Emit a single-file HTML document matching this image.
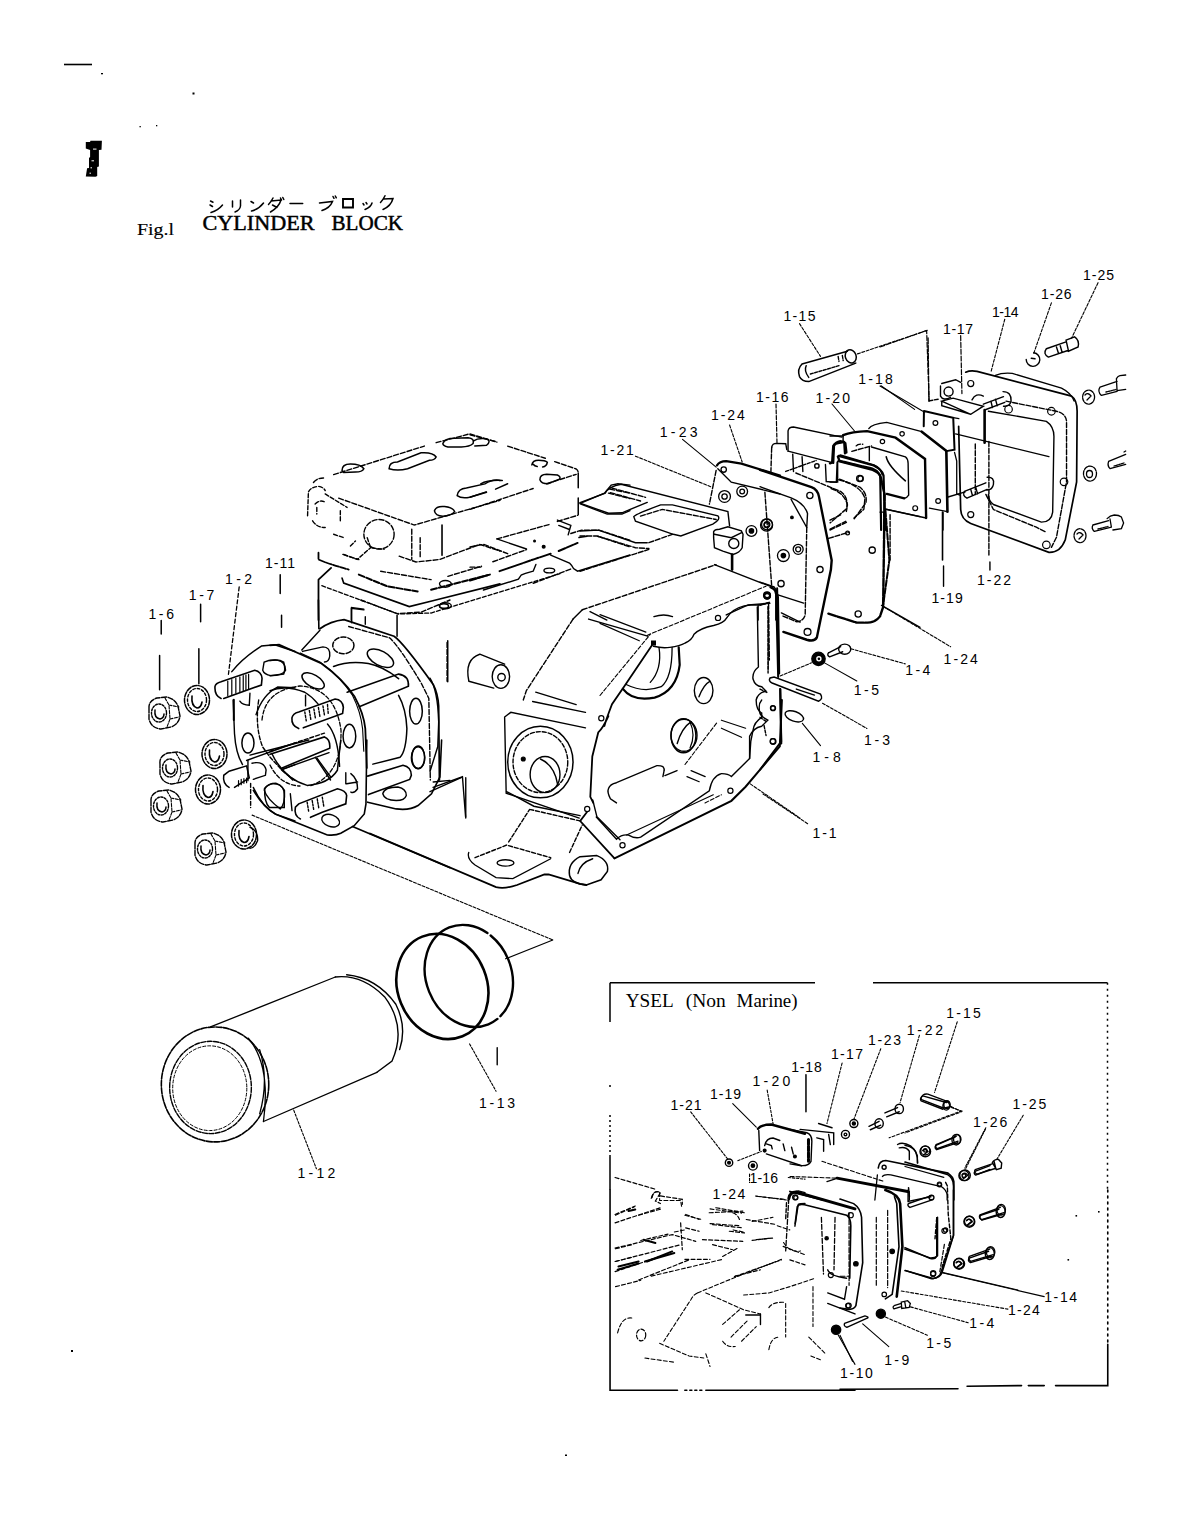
<!DOCTYPE html>
<html><head><meta charset="utf-8">
<style>
html,body{margin:0;padding:0;background:#fff;width:1190px;height:1540px;overflow:hidden}
svg{position:absolute;left:0;top:0}
.t{font-family:"Liberation Serif",serif;fill:#000}
path,line,circle,ellipse,rect,polyline{vector-effect:non-scaling-stroke}
.l{font-family:"Liberation Sans",sans-serif;font-size:13px;fill:#000;letter-spacing:0.5px}
</style></head><body>
<svg width="1190" height="1540" viewBox="0 0 1190 1540">
<g id="title">
<line x1="64" y1="64.5" x2="92" y2="64.5" stroke="#000" stroke-width="1.6"/>
<rect x="101" y="73" width="2" height="1.3" fill="#000"/>
<rect x="192.5" y="92.5" width="2" height="2" fill="#000"/>
<rect x="139.5" y="126" width="1.3" height="1.3" fill="#000"/>
<rect x="156" y="125" width="1.3" height="1.3" fill="#000"/>
<path d="M85.8,142 L90,142 L90.5,140.7 L101.9,140.7 L101.5,149.8 L98.9,150 L98.9,166.6 L97.2,167 L97.2,176 L95.5,176.8 L85.8,176.6 L87.1,168.3 L89,168 L89,158 L90.1,157 L90.1,150 L85.8,148.5 Z" fill="#000"/>
<path d="M93,149.1h3.5M91.5,160.8h2.5M90.5,167.8h1.5M89.5,173.2h1.5" stroke="#fff" stroke-width="1"/>
<text class="t" x="137" y="234.5" font-size="17.5" stroke="#000" stroke-width="0.15" textLength="37" lengthAdjust="spacingAndGlyphs">Fig.l</text>
<text class="t" x="202.5" y="229.7" font-size="20" stroke="#000" stroke-width="0.45" textLength="112" lengthAdjust="spacingAndGlyphs">CYLINDER</text>
<text class="t" x="331.5" y="229.7" font-size="20" stroke="#000" stroke-width="0.45" textLength="71.5" lengthAdjust="spacingAndGlyphs">BLOCK</text>
<g fill="none" stroke="#000" stroke-width="1.5" stroke-linecap="round">
<path d="M210.5,201 L213,202.2 M210,205 L212.5,206.5 M211,212.5 Q218,210.5 222.5,205"/>
<path d="M232.5,201 L232.5,207 M240.5,200 L240.5,206 Q240,210 235,212"/>
<path d="M251,201.5 L253.5,203 M251.5,211 Q259,209 263.5,203"/>
<path d="M273,198 Q271,202 268.5,204.5 M271,201 L281,200 Q279,207 270.5,212 M272.5,205 L277,207.5 M280.5,198 l1,2 M282.8,197.5 l1,2"/>
<path d="M290,203.6 H302.7"/>
<path d="M319.5,203 L332.5,201.5 Q330,208 322,210.5 M333,196.5 l1,1.8 M335.3,196 l1,1.8"/>
<path d="M343,199 H353 V207.5 H343 Z M343,207.5 H353" stroke-width="1.9"/>
<path d="M363,203.5 l1,1.5 M366,202.5 l1,1.5 M372,203 Q371,207 365,209.5"/>
<path d="M385,195.8 Q383,200 380.5,202.5 M383.5,199 L393,198.5 Q391,206 383,209.5"/>
</g>
</g>
<g id="inset" fill="none" stroke="#000" stroke-width="1.5">
<path d="M610 982.8H815M873 982.8H1107.5"/>
<path d="M610 982.8V1022M610 1155V1190"/>
<path d="M610 1085v2M610 1115v37" stroke-dasharray="2 3"/>
<path d="M1107.5 982.8V1190" stroke-dasharray="2 4"/>
</g>
<g class="t" font-size="18">
<text x="625.7" y="1007.2" textLength="48" lengthAdjust="spacingAndGlyphs">YSEL</text>
<text x="685.8" y="1007.2" textLength="40" lengthAdjust="spacingAndGlyphs">(Non</text>
<text x="736.6" y="1007.2" textLength="61" lengthAdjust="spacingAndGlyphs">Marine)</text>
</g>
<g id="labels"><g font-family="Liberation Sans, sans-serif" font-size="14" fill="#000">
<text x="1083" y="280" textLength="31.0" lengthAdjust="spacing">1-25</text>
<text x="1041" y="299" textLength="30.6" lengthAdjust="spacing">1-26</text>
<text x="992" y="316.7" textLength="26.6" lengthAdjust="spacing">1-14</text>
<text x="943" y="334" textLength="30.0" lengthAdjust="spacing">1-17</text>
<text x="858.3" y="384" textLength="34.5" lengthAdjust="spacing">1-18</text>
<text x="783.5" y="321" textLength="32.0" lengthAdjust="spacing">1-15</text>
<text x="756" y="401.5" textLength="32.6" lengthAdjust="spacing">1-16</text>
<text x="815.5" y="402.5" textLength="34.5" lengthAdjust="spacing">1-20</text>
<text x="711" y="420" textLength="33.7" lengthAdjust="spacing">1-24</text>
<text x="659.8" y="436.8" textLength="37.8" lengthAdjust="spacing">1-23</text>
<text x="600.4" y="454.5" textLength="33.4" lengthAdjust="spacing">1-21</text>
<text x="931.4" y="603.4" textLength="31.3" lengthAdjust="spacing">1-19</text>
<text x="977" y="585" textLength="34.0" lengthAdjust="spacing">1-22</text>
<text x="943.5" y="663.9" textLength="34.3" lengthAdjust="spacing">1-24</text>
<text x="905.2" y="675" textLength="25.2" lengthAdjust="spacing">1-4</text>
<text x="853.8" y="695" textLength="25.2" lengthAdjust="spacing">1-5</text>
<text x="863.9" y="744.5" textLength="26.1" lengthAdjust="spacing">1-3</text>
<text x="812.4" y="761.7" textLength="28.3" lengthAdjust="spacing">1-8</text>
<text x="812.4" y="838.3" textLength="24.2" lengthAdjust="spacing">1-1</text>
<text x="148.4" y="618.5" textLength="25.6" lengthAdjust="spacing">1-6</text>
<text x="188.8" y="600.3" textLength="25.5" lengthAdjust="spacing">1-7</text>
<text x="225" y="583.5" textLength="27.0" lengthAdjust="spacing">1-2</text>
<text x="265" y="568" textLength="30.0" lengthAdjust="spacing">1-11</text>
<text x="297.5" y="1178" textLength="37.8" lengthAdjust="spacing">1-12</text>
<text x="479" y="1108" textLength="36.0" lengthAdjust="spacing">1-13</text>

<text x="946.3" y="1017.6" textLength="34.5" lengthAdjust="spacing">1-15</text>
<text x="906.8" y="1034.5" textLength="36.2" lengthAdjust="spacing">1-22</text>
<text x="868" y="1045.4" textLength="33.0" lengthAdjust="spacing">1-23</text>
<text x="831" y="1058.8" textLength="32.0" lengthAdjust="spacing">1-17</text>
<text x="791.2" y="1071.9" textLength="30.5" lengthAdjust="spacing">1-18</text>
<text x="752.4" y="1085.8" textLength="37.9" lengthAdjust="spacing">1-20</text>
<text x="710" y="1099.3" textLength="31.0" lengthAdjust="spacing">1-19</text>
<text x="670.5" y="1110.3" textLength="31.1" lengthAdjust="spacing">1-21</text>
<text x="1012.6" y="1109" textLength="33.6" lengthAdjust="spacing">1-25</text>
<text x="973" y="1126.8" textLength="34.4" lengthAdjust="spacing">1-26</text>
<text x="749.5" y="1182.5" textLength="28.5" lengthAdjust="spacing">1-16</text>
<text x="712.6" y="1198.5" textLength="32.7" lengthAdjust="spacing">1-24</text>
<text x="1044.2" y="1302.3" textLength="32.9" lengthAdjust="spacing">1-14</text>
<text x="1008" y="1314.8" textLength="31.7" lengthAdjust="spacing">1-24</text>
<text x="969.3" y="1328.4" textLength="25.0" lengthAdjust="spacing">1-4</text>
<text x="926.2" y="1347.7" textLength="25.0" lengthAdjust="spacing">1-5</text>
<text x="884.2" y="1364.7" textLength="25.0" lengthAdjust="spacing">1-9</text>
<text x="840" y="1378.3" textLength="32.9" lengthAdjust="spacing">1-10</text></g></g>
<g transform="translate(250 740) scale(0.168067)" fill="none" stroke="#000" stroke-width="1.4" stroke-linecap="round">
<path stroke-width="1.6" d="M20,300 Q80,400 150,440 L460,565 Q510,570 540,555 L620,510 L680,440 L690,380 L695,0"/>
<path stroke-width="1.6" d="M700,370 L870,410 Q950,420 1000,390 L1080,320 L1130,220 L1140,0"/>
<path stroke-width="1.6" d="M300,470 Q260,450 270,400 L290,380 L520,290 Q570,300 575,330 L570,380 L430,430 L360,460"/>
<path stroke-dasharray="2.00 1.50" d="M340,370 L350,430 M370,360 L380,420 M400,350 L410,410 M430,340 L440,400"/>
<path stroke-width="1.4" d="M180,410 Q210,380 205,300 Q180,255 130,260 Q80,280 85,300 Q100,350 180,410"/>
<ellipse cx="1000" cy="105" rx="40" ry="65" stroke-width="1.4"/>
<path stroke-width="1.4" d="M790,320 Q800,280 880,280 Q930,290 930,330 Q920,360 870,360 Q800,360 790,320"/>
<path stroke-width="1.6" d="M700,215 L910,150 Q960,160 960,210 L950,235 L705,325"/>
<path d="M570,195 L570,260 M600,200 Q640,230 640,290 Q620,320 600,310 M575,260 L640,250"/>
<path stroke-width="1.5" d="M130,80 Q200,230 340,270 Q470,260 520,180 L540,0"/>
<path d="M190,175 L470,75 M400,110 L480,220 M0,90 L350,0 M240,320 L250,420"/>

<path stroke-width="1.7" d="M610,515 L1190,760"/>
<ellipse cx="480" cy="480" rx="55" ry="35" transform="rotate(20 480 480)"/>
<path stroke-width="1.4" d="M0,520 Q50,540 45,600 Q30,640 0,645"/>
<path d="M1090,250 L1190,240"/>
</g>
<g transform="translate(580 420) scale(0.168070)" fill="none" stroke="#000" stroke-width="1.4" stroke-linecap="round">
<path stroke-width="1.1" stroke-dasharray="3.00 1.60" d="M330,215 L785,400 M890,30 L965,250"/>
<path stroke-width="1.1" d="M610,115 L810,280"/>
<path stroke-width="2.2" d="M815,270 Q830,245 870,245 L960,260 L1190,330"/>
<path stroke-dasharray="5.00 1.80" d="M810,300 L770,500"/>
<path d="M820,290 L900,370 L1190,440"/>
<g stroke-width="1.3"><circle cx="860" cy="455" r="35"/><circle cx="860" cy="455" r="16"/><circle cx="965" cy="425" r="32"/><circle cx="965" cy="425" r="14"/>
<circle cx="1020" cy="660" r="32"/><circle cx="1020" cy="660" r="13" fill="#000"/><circle cx="1110" cy="625" r="36"/><circle cx="1110" cy="625" r="15"/><circle cx="1115" cy="1045" r="18"/><circle cx="855" cy="295" r="16"/></g>
<path stroke-dasharray="5.00 1.80" d="M1100,430 L1140,980"/>
<path d="M0,492 L150,435 Q170,395 245,382 L880,545 L890,630"/>
<path d="M0,495 L170,555 L250,552 L400,490"/>
<path stroke-dasharray="5.00 1.80" d="M190,405 L390,460 M180,432 L360,482"/>
<path d="M320,575 Q330,560 480,505 L550,505 L820,570 Q840,590 790,620 L600,690 L555,680 L330,602 Z"/>
<path stroke-dasharray="5.00 1.80" d="M360,572 L490,532 L810,592"/>
<path d="M0,660 L110,655 L330,730 L400,730"/>
<path stroke-dasharray="5.00 1.80" d="M0,690 L100,690 L330,760 L410,765 M0,900 L410,770 M410,730 L550,680"/>
<path d="M795,665 Q800,650 830,650 L880,635 L960,660 L970,680 L965,760 Q950,790 910,800 L850,780 L800,760 L795,700 Z M800,680 L900,700 L965,668"/>
<circle cx="915" cy="735" r="30"/>
<path stroke-width="2.6" d="M905,800 L905,890"/>

<path d="M800,860 L1120,985 Q1160,990 1165,1040 L1165,1190 M1060,1100 L1060,1190"/>
<path d="M60,1140 L160,1190 M440,1170 Q500,1150 550,1170 M870,1160 L1000,1100 L1130,1090"/>

</g>
<g transform="translate(880 260) scale(0.252080)" fill="none" stroke="#000" stroke-width="1.4" stroke-linecap="round">
<path stroke-width="1.1" stroke-dasharray="3.00 1.60" d="M865,90 L760,310 M680,170 L610,370 M495,235 L440,445"/>
<path stroke-width="1.2" stroke-dasharray="5.00 1.80" d="M320,300 L325,530 M0,345 L185,280 L195,560"/>
<path stroke-width="1.1" d="M0,500 L170,600"/>
<path d="M660,352 L738,325 M668,385 L748,358 M660,352 Q645,372 668,385 M738,318 L772,305 Q792,318 786,345 L748,362 Z M700,345 L708,370 M715,340 L722,365"/>
<path d="M580,395 A27,27 0 1,0 610,368 M600,390 L615,392"/>
<path stroke-width="1.7" d="M340,445 Q360,436 385,442 L760,540 Q782,555 782,600 L780,880 L735,1110 Q715,1162 670,1160 L360,1045 Q322,1030 320,990 L312,660"/>
<path stroke-width="1.3" d="M458,458 Q485,446 525,450 L720,508 Q760,528 770,560"/>
<path stroke-dasharray="5.00 1.80" d="M500,560 L700,600 Q738,610 740,640 L740,880 L700,1100 L680,1140 M420,930 L450,990 L620,1060 L660,1080"/>
<path d="M430,600 L660,640 Q690,660 690,700 L685,1000 Q680,1040 640,1040 L450,970 Q430,955 430,930"/>
<path d="M300,690 L670,780"/>
<path stroke-width="2.6" d="M415,595 L415,725"/>
<path stroke-dasharray="5.00 1.80" d="M378,730 L378,930 M432,720 L432,1170"/>
<g stroke-width="1.2"><circle cx="360" cy="490" r="12"/><circle cx="680" cy="600" r="15"/><circle cx="730" cy="880" r="15"/><circle cx="660" cy="1130" r="15"/><circle cx="360" cy="1010" r="12"/><circle cx="510" cy="592" r="15"/></g>
<path d="M410,572 L490,542 M415,595 L495,565 M488,522 Q522,522 520,560 Q515,582 490,580 M440,560 L446,585 M458,552 L465,578"/>
<path d="M335,918 L420,884 M345,945 L425,910 M335,918 Q325,935 345,945 M425,862 Q455,860 450,890 Q445,915 420,912 M360,910 L367,935 M380,902 L387,928"/>
<path d="M270,940 L338,920"/>
<path d="M245,490 L300,475 L320,485 M240,500 L240,540 Q250,560 280,545"/>
<path d="M245,560 L290,548 L410,580 L360,612 Z M245,560 L245,578 L360,612"/>
<circle cx="272" cy="522" r="18"/><path d="M365,555 Q380,525 410,540"/>
<path stroke-width="1.6" d="M248,1000 L248,1190"/>
<path d="M0,1000 L20,1000 M15,1000 L15,1190 M40,1010 L40,1190" stroke-dasharray="5.00 1.80"/>
</g>
<g transform="translate(270 600) scale(0.151263)" fill="none" stroke="#000" stroke-width="1.4" stroke-linecap="round">
<path stroke-width="1.6" d="M320,0 L323,190"/>
<path stroke-width="1.7" d="M330,190 Q400,140 490,130 L520,140 L820,240 Q880,280 1080,560 Q1110,620 1115,700 L1120,1190"/>
<path stroke-dasharray="5.00 2.00" d="M520,175 L790,250 Q850,300 1000,550 L1050,650 L1060,1190"/>
<path stroke-width="1.5" d="M420,440 Q520,400 650,420 Q750,440 850,520 M850,630 Q900,720 905,850 Q900,1000 860,1040 L680,1085"/>
<g stroke-width="1.5">
<ellipse cx="485" cy="300" rx="70" ry="55" stroke-dasharray="5.00 2.00"/>
<ellipse cx="730" cy="385" rx="95" ry="48" transform="rotate(28 730 385)"/>
<ellipse cx="965" cy="735" rx="42" ry="85"/>
<ellipse cx="980" cy="1040" rx="42" ry="75"/>
<ellipse cx="285" cy="535" rx="82" ry="40" transform="rotate(30 285 535)"/>
<ellipse cx="525" cy="900" rx="42" ry="78"/>
</g>
<path stroke-width="1.8" d="M0,300 L60,295 L340,420 Q480,520 560,640 Q620,750 630,850 L640,1110"/>
<path stroke-width="1.1" d="M200,350 L330,410 Q460,500 545,630 Q600,740 612,850 L620,1000"/>
<path d="M210,330 L330,200 M215,340 L350,310 Q400,310 395,370 Q390,410 360,410"/>
<path stroke-width="1.5" d="M0,400 Q60,390 90,410 Q105,460 90,490 L0,500"/>
<path stroke-width="1.4" d="M0,600 Q100,560 230,610 Q280,640 320,690 M380,820 Q450,900 460,1100"/>
<path stroke-width="1.6" d="M190,850 Q140,830 145,780 Q150,750 190,740 L430,655 Q480,660 485,710 L480,750 L220,845"/>
<path stroke-dasharray="2.00 1.50" d="M230,740 L240,800 M260,730 L270,790 M290,720 L300,780 M320,710 L330,770 M350,700 L360,760 M380,690 L385,750"/>
<path stroke-width="1.6" d="M510,610 L850,490 Q920,500 915,570 L590,705"/>
<path stroke-width="1.6" d="M0,1020 L360,905 Q400,920 395,980 L80,1110"/>
<path stroke-dasharray="4.00 2.00" d="M0,1000 L360,880"/>
<path d="M300,1040 L400,1190 M80,1120 L150,1190 M235,630 L235,700"/>
<path d="M540,150 L540,50 L620,60 M630,110 L630,160"/>
<path stroke-dasharray="5.00 2.00" d="M600,0 L840,90 L1000,80 L1190,0"/>
<path stroke-width="1.5" d="M840,100 L840,240 M1175,270 L1175,540"/>
<ellipse cx="1150" cy="40" rx="30" ry="15"/>
</g>
<g transform="translate(0 0) scale(1.000000)" fill="none" stroke="#000" stroke-width="1.4" stroke-linecap="round">
<path stroke-width="1.1" stroke-dasharray="4.00 2.00" d="M647,635.4 L766,586.2 M600,695.5 L650.3,634.3 M685,764.5 L717.3,722.2"/>
<path stroke-width="1.4" d="M653.5,646.3 Q662,648.5 669.9,647.4 Q680,646 685.2,643 Q692,640 694,634.3 Q700,628 713.6,625.5 Q724,623 726.7,617.9 Q732,609 744.2,605.9 L753,604.8 Q762,605.5 768.2,602.6"/>
<path stroke-width="2" d="M770.4,587.3 Q777,590 778,597.1 L779.2,673.6 M780.3,688.9 L781.3,743.5 M781.9,700 L779.8,746.4 L745.6,786.7 L731.4,800.8 L614.5,858.3"/>
<path stroke-width="1.4" d="M757.3,607 L758.4,667 Q752,672 753,679 Q755,686 761.7,686.7 L766,691 Q758,693 756.2,699.8 Q756,710 761.7,713 L761.7,717.3 Q754,722 753,730.4 L750.8,741.3 L749.6,758.5"/>
<path stroke-width="1.1" d="M768.2,607 L768.2,669.2"/>
<path stroke-width="1.8" d="M653.5,643 L624,686.7 L612,704.2 L608.7,713 Q606,720 604.4,726 M608.4,716.1 Q603,728 598.3,732.3 L592.3,756.5 L590.3,796.8 L593.3,802.9 M587,812 L580.2,821 L614.5,858.3"/>
<path stroke-width="1.4" d="M596.3,817 L616.5,839.2 Q622,834 628.6,835.1 Q635,839 640.7,837.2 L709.3,790.8 Q712,776 721.4,773.6 Q728,773.5 731.4,776.6 L749.6,758.5 L749.6,736.3 Q753,728 761.7,726.2 L767.8,720.2 Q760,716 759.7,712.1 Q758,704 761.7,700"/>
<path stroke-width="1.1" d="M626.6,835.1 L713.3,794.8"/>
<path stroke-width="1.1" stroke-dasharray="4.00 2.00" d="M705,802.9 L721.4,794.8"/>
<path stroke-width="1.4" d="M616.5,802.9 L610.4,798.8 Q607,792 608.4,788.7 Q610,784 616.5,782.7 L656.8,765.6 Q661,765.5 662.9,766.6 Q665,769 663.9,771.6 L662.9,776.6 M664.9,775.6 L677,770.6"/>
<g stroke-width="1.2"><circle cx="601.3" cy="718.2" r="2.6"/><circle cx="587.2" cy="808.9" r="2.6"/><circle cx="622.5" cy="845.2" r="2.6"/><circle cx="730.4" cy="790.8" r="2.6"/><circle cx="772.8" cy="741.3" r="2.6"/><circle cx="772.8" cy="708" r="2.4"/><circle cx="718" cy="617.9" r="2.6"/><circle cx="767.1" cy="595" r="2.6"/></g>
<rect x="651" y="640.5" width="5" height="5" fill="#000" stroke="none"/>
<ellipse cx="684" cy="735.3" rx="13" ry="16" stroke-width="1.4"/><path d="M690,722 Q696,735 690,748" stroke-width="1.2"/>
<path stroke-width="1.2" d="M691.1,770.6 L705.2,776.6 M687,776.6 L699.2,781.7 M721.4,720.2 L745.6,728.2 M721.4,728.2 L741.5,737.3 M600,614.6 L645.9,632.1 M600,623.4 L639.3,640.8"/>
<path stroke-width="2.2" d="M622.9,688.9 Q632.8,702 654.6,697.6 Q676.5,691.1 679.7,664.9 L678.7,647.4"/>
<path stroke-width="1.3" d="M626.2,684.5 Q643.7,693.3 661.2,686.7 Q672.1,678 672.1,647.4 M659,647.4 Q662.3,669.2 650.3,682.4"/>
</g>
<g transform="translate(370 760) scale(0.210084)" fill="none" stroke="#000" stroke-width="1.4" stroke-linecap="round">
<path stroke-width="1.8" d="M0,350 L600,605 Q640,615 700,595 L830,545 L850,545 L1000,590 L1030,595"/>
<path stroke-width="1.3" d="M470,440 Q460,470 500,500 L600,560 L680,565 L860,470"/>
<path stroke-dasharray="4.00 2.00" d="M500,465 L650,405 L860,465 M660,390 L760,235 M950,440 L1010,310 M760,235 L1000,290"/>
<ellipse cx="645" cy="490" rx="40" ry="15"/>
<path stroke-width="1.5" d="M950,550 Q940,490 1000,460 L1080,455 Q1140,480 1130,530 L1100,570 L1030,595 Q960,590 950,550"/>
<path d="M990,540 Q1000,490 1060,470"/>
<path d="M650,150 L780,220 L1000,265 M1060,190 L1080,270 L1190,380 M300,130 L440,80 L455,270"/>
</g>
<g transform="translate(760 420) scale(0.155841)" fill="none" stroke="#000" stroke-width="1.4" stroke-linecap="round">
<path stroke-width="2.4" d="M0,320 L330,430 Q370,445 378,490 L460,900 L455,960 L365,1395 Q350,1425 300,1410 L150,1360"/>
<path d="M0,428 L200,500 Q285,535 305,600 L300,690 M200,510 L300,690"/>
<path stroke-dasharray="5.00 1.80" d="M300,690 L290,1250 Q280,1290 235,1295 L140,1255"/>
<path stroke-dasharray="5.00 1.80" d="M75,175 L70,330"/>
<path d="M75,175 Q80,150 105,150 L165,152 L172,190"/>
<path stroke-width="2" d="M110,1080 L120,1540"/>
<path stroke-dasharray="5.00 1.80" d="M55,1180 L60,1540"/>
<path d="M0,1040 L90,1070 L110,1100 M0,1190 L60,1170 M110,1120 L280,1175"/>
<g stroke-width="1.3">
<circle cx="320" cy="485" r="20"/><circle cx="385" cy="960" r="20"/><circle cx="305" cy="1360" r="22"/><circle cx="135" cy="1050" r="20"/><circle cx="45" cy="1125" r="22"/>
<circle cx="45" cy="670" r="35"/><circle cx="45" cy="670" r="18"/><circle cx="245" cy="830" r="32"/><circle cx="245" cy="830" r="16"/><circle cx="150" cy="870" r="38"/><circle cx="150" cy="870" r="14" fill="#000"/>
<circle cx="205" cy="625" r="8" fill="#000"/>
</g>
<path d="M180,200 L180,70 Q185,45 215,45 L525,110"/>
<path stroke-width="2.2" d="M470,275 L475,165 Q485,140 515,135 L540,140 L545,215"/>
<path d="M180,200 L470,275 M420,285 L425,395 L490,400 L495,270 M210,220 L215,330 M270,235 L275,330"/>
<path stroke-dasharray="3.00 1.60" d="M165,330 L360,260"/>
<circle cx="365" cy="295" r="14"/>
<path stroke-width="2.4" stroke-dasharray="8.00 1.50" d="M500,235 L510,262 L720,312 Q765,330 775,370 L800,480 L790,1200 L770,1260 Q740,1300 690,1300 L620,1300 L430,1240"/>
<path stroke-width="1.8" d="M515,225 L730,290 Q775,310 785,350"/>
<path stroke-dasharray="5.00 1.80" d="M510,380 L640,430 Q690,470 680,530 L600,640 M230,340 L520,460 Q570,500 555,570 L450,660 M450,700 L550,650 M440,760 L570,720"/>
<path stroke-width="2" stroke-dasharray="6.00 1.80" d="M805,580 L830,900 L790,1190"/>
<path d="M800,570 L1027,620 M780,1190 L1027,1330"/>
<g stroke-width="1.3"><circle cx="640" cy="375" r="20"/><circle cx="720" cy="835" r="20"/><circle cx="630" cy="1245" r="20"/><circle cx="562" cy="725" r="12"/></g>
</g>
<g transform="translate(430 560) scale(0.310945)" fill="none" stroke="#000" stroke-width="1.4" stroke-linecap="round">
<path stroke-dasharray="5.00 2.00" d="M490,160 L920,15 M460,190 L310,420 L300,450"/>
<path d="M490,160 L460,190 M510,190 L700,245"/>
<ellipse cx="880" cy="420" rx="30" ry="42"/><path d="M865,440 Q880,400 900,390"/>
<ellipse cx="815" cy="565" rx="40" ry="55"/><path d="M795,590 Q810,540 840,520"/>
<ellipse cx="355" cy="650" rx="105" ry="115" stroke-width="1.5"/>
<ellipse cx="370" cy="690" rx="48" ry="58"/><path d="M355,640 Q400,660 410,720"/>
<ellipse cx="355" cy="650" rx="88" ry="98" stroke-dasharray="4.00 2.00"/>
<circle cx="300" cy="640" r="6" fill="#000"/>
<path d="M240,505 L260,490 L500,540 M240,505 L245,750 L480,830"/>
<path d="M340,425 L470,465 M330,455 L500,490"/>
<path stroke-width="1.1" stroke-dasharray="3.00 1.60" d="M1030,720 L1190,830"/>
<path d="M0,745 L100,700 M115,700 L115,830"/>
<path d="M0,380 Q25,420 28,520 L25,600 L0,680"/>
<path d="M160,303 L240,335 M125,390 L205,412 M160,303 Q110,320 125,390"/>
<ellipse cx="228" cy="375" rx="28" ry="38"/><circle cx="230" cy="377" r="12"/>
<path stroke-dasharray="5.00 2.00" d="M55,265 L55,390"/>
<path d="M1130,170 L1190,200 "/>
</g>
<g transform="translate(300 420) scale(0.168067)" fill="none" stroke="#000" stroke-width="1.4" stroke-linecap="round">
<path stroke-dasharray="5.00 2.00" d="M80,372 Q100,345 140,345 M200,325 L740,155 M810,135 L1000,85 L1170,130"/>
<g stroke-width="1.5">
<path d="M250,300 Q250,262 300,262 Q360,262 380,290 Q370,310 330,310 L260,312 Z"/>
<path d="M530,290 Q530,250 580,250 L720,195 Q790,190 810,220 Q800,240 770,240 L640,290 Q580,305 530,290 Z"/>
<path d="M850,140 Q860,108 920,108 L1000,105 Q1040,110 1030,140 Q1010,160 960,160 L880,160 Q850,155 850,140 Z M1030,125 Q1060,105 1110,112 Q1140,125 1110,150 L1040,155"/>
<path d="M935,450 Q940,410 990,405 L1100,380 Q1150,350 1190,360 M935,450 Q960,470 1010,460 L1110,430"/>
<path d="M800,540 Q810,510 860,515 Q910,520 920,545 Q900,570 850,572 Q805,570 800,540 Z"/>
</g>
<path stroke-dasharray="5.00 2.00" d="M230,465 L680,625 L1190,478"/>
<path stroke-dasharray="4.00 2.00" d="M45,570 L50,430 Q60,400 110,395 Q140,400 150,420 M75,600 Q100,640 150,640 M90,500 Q120,470 150,490 M100,520 L100,560 M240,540 L240,600 M150,440 L280,520 M200,680 L260,700"/>
<ellipse cx="470" cy="680" rx="90" ry="88" stroke-dasharray="5.00 2.00"/>
<path stroke-dasharray="4.00 2.00" d="M400,700 L420,760 L500,770 M300,750 L330,720 M260,800 L340,830 L420,760"/>
<path stroke-dasharray="5.00 2.00" d="M665,650 L665,830 M715,700 L715,820"/>
<path stroke-width="1.6" d="M845,625 L845,805"/>
<path stroke-dasharray="5.00 2.00" d="M590,810 L690,845 L830,830 L1070,740 L1190,780"/>
<path stroke-width="1.8" stroke-dasharray="6.00 1.50" d="M110,790 L110,830 Q150,850 290,890"/>
<path stroke-dasharray="5.00 2.00" d="M255,800 L350,830 M480,900 L780,950 M880,930 L1080,870"/>
<path stroke-width="1.6" d="M250,940 L260,970 L650,1110 L790,1075 L1190,975"/>
<path stroke-width="2" stroke-dasharray="6.00 2.00" d="M350,920 L520,990 L700,1020 M780,1010 L1130,920"/>
<path stroke-width="1.8" d="M110,950 L110,1190 M110,950 L185,880"/>

<path d="M305,1190 L305,1120 L380,1130"/>
<ellipse cx="865" cy="1105" rx="35" ry="18"/><ellipse cx="865" cy="975" rx="35" ry="20"/>
</g>
<g transform="translate(470 430) scale(0.134454)" fill="none" stroke="#000" stroke-width="1.4" stroke-linecap="round">
<path stroke-dasharray="5.00 2.00" d="M0,30 L200,90 M280,120 L560,210 M630,235 L790,290 Q805,300 805,320"/>
<path stroke-width="1.5" d="M805,320 L805,430 M805,505 L805,630"/>
<path stroke-dasharray="5.00 2.00" d="M0,590 L470,435 M570,400 L790,330"/>
<g stroke-width="1.5">
<path d="M0,500 L120,460 M190,440 L280,400 M80,400 Q130,370 240,375"/>
<path d="M460,260 Q465,225 510,225 Q560,225 575,240 Q570,270 540,275 M470,255 Q480,270 500,272"/>
<path d="M520,370 Q520,330 570,330 L650,335 Q680,350 665,365 L580,400 Q530,400 520,370 Z"/>
</g>
<path stroke-dasharray="5.00 2.00" d="M650,680 L800,635 M200,810 L600,700"/>
<path d="M200,810 L420,885"/>
<path stroke-dasharray="5.00 2.00" d="M0,870 L100,850 L280,920 M170,980 L420,890 M0,1020 L80,1020 M470,1140 L760,1030 M750,770 L830,745 L960,745 L1190,820 M950,790 L1190,870"/>
<path stroke-width="2" stroke-dasharray="7.00 1.50" d="M220,1050 L480,960 L600,920 M0,1120 L130,1080 M660,900 L800,840"/>
<path d="M600,930 L740,990 Q760,1010 770,1030 L800,1050 L1190,930"/>
<path d="M100,1190 L360,1110 L380,1080 Q400,1070 470,1050 L490,1000"/>
<path d="M650,670 L750,710 L730,780 M660,710 L740,740 M810,800 L870,790"/>
<path d="M820,545 L1000,470 L1050,410 L1100,400 L1190,410 M820,550 L1020,625 L1130,625 L1190,600"/>
<path stroke-dasharray="5.00 2.00" d="M1040,440 L1190,470 M1030,470 L1190,510"/>
<ellipse cx="590" cy="1045" rx="40" ry="18"/>
<circle cx="548" cy="868" r="10" fill="#000"/><circle cx="480" cy="825" r="6"/>
</g>
<g transform="translate(605 1080) scale(0.168067)" fill="none" stroke="#000" stroke-width="1.4" stroke-linecap="round">
<path stroke-width="1.1" stroke-dasharray="2.50 1.60" d="M510,190 L730,470 M965,60 L1000,260 M1090,580 L1190,590 M860,560 L860,610 M895,690 L1090,715 M790,480 L930,425"/>
<path stroke-width="1.1" d="M760,140 L900,280"/>
<circle cx="738" cy="492" r="22" stroke-width="1.4"/><circle cx="738" cy="492" r="8" fill="#000"/>
<circle cx="880" cy="510" r="26" stroke-width="1.4"/><circle cx="880" cy="510" r="10" fill="#000"/>
<path stroke-width="2.4" d="M910,290 Q930,265 990,265 L1190,320"/>
<path stroke-width="1.4" d="M915,300 L920,420 M960,440 L1170,510 M950,390 Q960,345 1000,345 L1040,360 M960,380 L990,390 L995,410 M1060,380 L1070,420 M1110,400 L1120,440"/>
<circle cx="1130" cy="455" r="8" fill="#000"/><circle cx="950" cy="420" r="8" fill="#000"/>
<g stroke-width="1.2" stroke-dasharray="4.00 2.20">
<path d="M60,580 L300,650 M330,690 L460,710 L460,740 M280,700 Q290,650 330,670 L300,720 L330,735"/>
<path d="M60,800 L180,750 M60,850 L330,760 M480,800 L560,830 M620,790 L820,780 M640,860 L820,880 M760,790 Q790,800 800,830"/>
<path d="M60,1000 L400,920 L540,960 M60,1080 L450,980 M60,1140 L360,1040 M200,1190 L500,1070 M580,950 L820,960 M700,1050 L790,1000"/>
<path d="M840,830 L1020,860 M900,950 L1000,940 M1060,990 L1190,1040 M770,1170 L1050,1070 M1100,1070 L1190,1100 M450,850 L460,1010"/>
<path d="M660,760 L830,790 M740,900 L830,910 M480,880 L560,900 M640,980 L760,1010"/>
</g>
<path stroke-width="2" d="M250,1080 L400,1020 M80,1110 L200,1080 M230,950 L300,970 M140,780 L180,770"/>
<path stroke-width="1.4" d="M1090,720 Q1100,665 1150,660 L1190,670 M1130,870 L1150,740 Q1160,735 1190,735"/>
<path stroke-dasharray="4.00 2.00" d="M1080,730 L1075,830"/>
<circle cx="1135" cy="700" r="12"/>
</g>
<g transform="translate(790 1000) scale(0.168067)" fill="none" stroke="#000" stroke-width="1.4" stroke-linecap="round">
<path stroke-width="1.5" d="M95,445 L95,665"/>
<path stroke-width="1.1" stroke-dasharray="2.50 1.60" d="M310,375 L220,735 M540,290 L380,710 M770,210 L655,610 M995,130 L860,550 M1165,760 L1040,1000"/>
<path stroke-width="1.4" d="M565,672 L640,640 M575,695 L650,665 M470,752 L530,722 M478,772 L540,745"/>
<ellipse cx="650" cy="648" rx="25" ry="28" stroke-width="1.4"/><ellipse cx="530" cy="735" rx="25" ry="28" stroke-width="1.4"/>
<circle cx="380" cy="735" r="24" stroke-width="1.4"/><circle cx="380" cy="735" r="9" fill="#000"/>
<circle cx="330" cy="800" r="24" stroke-width="1.4"/><circle cx="330" cy="800" r="8"/>
<path stroke-width="1.4" d="M790,570 L930,610 M780,600 L910,650 M790,570 Q770,585 780,600"/>
<ellipse cx="930" cy="630" rx="20" ry="25" stroke-width="1.4"/>
<path stroke-width="1.1" stroke-dasharray="3.00 1.80" d="M960,640 L1020,660 L590,820"/>
<path stroke-width="1.4" d="M870,860 L990,810 M875,885 L1000,840 M870,860 Q860,875 875,885"/>
<ellipse cx="995" cy="828" rx="22" ry="28" stroke-width="1.4"/>
<circle cx="805" cy="895" r="27" stroke-width="1.4"/><circle cx="805" cy="895" r="10"/>
<circle cx="1035" cy="1045" r="30" stroke-width="1.4"/><circle cx="1035" cy="1045" r="11"/>
<path stroke-width="1.4" d="M1100,1020 L1190,985 M1105,1042 L1190,1008 M1100,1020 Q1090,1032 1105,1042"/>
<path stroke-width="1.6" d="M525,1000 Q530,955 570,955 L940,1030 Q970,1050 975,1080 L975,1190"/>
<path stroke-width="1.3" d="M550,1050 Q560,1035 600,1040 L900,1110 Q930,1130 935,1160 L935,1190"/>
<circle cx="560" cy="995" r="12"/><circle cx="890" cy="1100" r="12"/>
<path stroke-width="1.4" d="M640,860 Q670,840 720,870 Q760,900 760,970 M650,880 Q690,870 710,900 L710,950"/>
<path stroke-width="1.4" d="M0,770 L100,790 Q130,800 130,840 L125,960 Q110,990 60,985 L0,975 M60,770 L260,790 L260,860 M170,735 L250,760"/>
<path stroke-width="3" stroke-dasharray="5.00 1.50" d="M110,830 L110,960"/>
<path stroke-width="1.4" d="M160,820 L200,830 L200,900 M230,800 L240,860"/>
<path stroke-width="3" d="M280,1060 L700,1140"/>
<path stroke-width="1.3" d="M220,1080 L270,1065 M520,1040 L505,1190 M710,1140 L710,1190"/>
<path stroke-width="1.1" stroke-dasharray="4.00 2.00" d="M190,960 L560,1080 M0,1050 L280,1060"/>
<path stroke-width="2" d="M0,1140 L200,1190"/>
</g>
<g transform="translate(905 1080) scale(0.176460)" fill="none" stroke="#000" stroke-width="1.4" stroke-linecap="round">
<path stroke-width="1.1" stroke-dasharray="2.50 1.60" d="M670,200 L520,450 M455,280 L340,510"/>
<g stroke-width="1.4">
<circle cx="340" cy="540" r="30"/><path d="M325,535 Q340,520 355,540 L330,560"/>
<path d="M398,508 L498,474 M408,534 L515,500 M398,508 Q388,522 408,534 M495,468 Q505,448 530,450 L548,470 L545,500 L518,508 Z M505,462 L515,504"/>
<circle cx="365" cy="800" r="28"/><path d="M350,795 Q365,780 380,800 L355,820"/>
<path d="M425,765 L540,722 M435,792 L560,752 M425,765 Q415,780 435,792"/><ellipse cx="545" cy="735" rx="24" ry="30"/>
<circle cx="305" cy="1040" r="28"/><path d="M290,1035 Q305,1020 320,1040 L295,1060"/>
<path d="M365,1000 L480,958 M372,1028 L500,990 M365,1000 Q355,1015 372,1028"/><ellipse cx="485" cy="975" rx="24" ry="30"/>
<circle cx="115" cy="405" r="30"/><path d="M100,400 Q115,385 130,405 L105,425"/>
<path d="M175,370 L285,322 M180,395 L300,355 M175,370 Q165,385 180,395"/><ellipse cx="290" cy="338" rx="24" ry="30"/>
</g>
<path stroke-width="1.6" d="M0,465 L240,535 Q275,555 275,600 L275,880 L210,1090 Q200,1122 160,1125 L0,1080"/>
<path stroke-width="1.2" d="M0,490 L220,552"/>
<path stroke-dasharray="4.00 2.00" d="M230,580 L240,600 L245,760 L260,900 L210,1060"/>
<path stroke-width="1.5" d="M20,610 L25,660 M180,780 L180,1000 Q170,1020 140,1010 L0,950"/>
<path stroke-width="1.4" d="M20,700 L150,655 M28,722 L158,678 M20,700 Q10,712 28,722"/><ellipse cx="150" cy="666" rx="14" ry="13"/>
<path stroke-dasharray="4.00 2.00" d="M180,780 L170,900"/>
<g stroke-width="1.2"><circle cx="195" cy="590" r="12"/><circle cx="230" cy="850" r="12"/><circle cx="160" cy="1095" r="15"/></g>
<path stroke-width="1.4" d="M90,110 Q95,75 130,80 L250,125 M90,110 L220,160 L260,150"/><ellipse cx="238" cy="140" rx="18" ry="22"/>
<path stroke-width="1.1" stroke-dasharray="3.00 1.80" d="M260,150 L320,180 L0,300"/>
<path stroke-width="1.4" d="M0,370 Q60,380 70,430 L70,470"/>
<path stroke-width="1.1" d="M210,1090 L640,1190"/>
</g>
<g transform="translate(605 1190) scale(0.210084)" fill="none" stroke="#000" stroke-width="1.4" stroke-linecap="round">
<g stroke-width="1.1" stroke-dasharray="4.00 2.20">
<path d="M50,120 L140,80 M160,120 L270,90 M220,40 Q230,0 260,10 L260,50 L360,50 L365,80"/>
<path d="M50,280 L130,260 M170,240 L300,210 M330,200 L380,190 M50,340 L130,320 M380,330 L500,330 M50,460 L170,430 M220,410 L560,330"/>
<path d="M440,490 L560,440 L840,330 M620,410 L740,380 M440,490 Q420,500 410,520 L280,720 M260,730 L400,790 L470,800 M480,490 L660,570 L740,590"/>
<path d="M660,500 L780,490 L880,460 L1000,420 M860,540 L860,700 M780,560 Q800,530 860,535 M780,760 Q790,700 830,700 M990,460 L990,650 M970,700 L1050,780 M980,790 L1030,810"/>
<path d="M60,680 Q80,600 130,610 M190,800 L330,820 M560,640 L640,570 M600,700 L680,620 M650,720 L720,650 M560,720 Q580,750 620,745 M480,780 L500,840"/>
<path d="M380,120 L460,140 M500,90 L650,110 M500,160 L640,170 M610,190 L660,200 M700,150 L800,130 M820,170 L880,190 M850,250 Q880,300 930,290 M700,240 L780,230"/>
</g>
<path stroke-width="2" d="M60,380 L160,350 M190,340 L330,300"/>
<path stroke-width="1.4" d="M740,590 L740,640 M670,595 L740,595"/>
<ellipse cx="172" cy="690" rx="22" ry="28" stroke-width="1.2" stroke-dasharray="4.00 2.00"/>
<path stroke-width="1.1" stroke-dasharray="4.00 2.00" d="M720,30 L860,45"/>
<path stroke-width="3" d="M875,40 Q880,10 910,10 L1190,90"/>
<path stroke-width="1.3" stroke-dasharray="5.00 2.00" d="M875,40 L860,290"/>
<path stroke-width="1.6" d="M905,160 L915,80 Q920,65 950,70 L1150,120 Q1170,135 1170,170 L1165,420"/>
<path stroke-width="1.3" stroke-dasharray="5.00 2.00" d="M1030,130 L1040,400 M1095,130 L1090,380"/>
<g stroke-width="1.2"><circle cx="905" cy="35" r="12"/><circle cx="1170" cy="120" r="12"/><circle cx="1075" cy="405" r="12"/><circle cx="1160" cy="550" r="12"/><circle cx="1055" cy="230" r="8" fill="#000"/></g>
<path stroke-width="1.4" d="M1060,380 Q1070,410 1150,420 M1060,490 L1140,520 L1150,460 M1060,540 L1190,590"/>
<circle cx="1100" cy="665" r="22" fill="#000"/>
<path stroke-width="1.1" d="M1110,690 L1190,830"/>
<path stroke-width="1.6" d="M24,0 L24,953 L345,953 M480,953 L1190,953"/>
<path stroke-width="1.6" stroke-dasharray="2.00 3.00" d="M380,953 L470,953"/>
</g>
<g transform="translate(840 1190) scale(0.226912)" fill="none" stroke="#000" stroke-width="1.4" stroke-linecap="round">
<path stroke-width="1.1" d="M450,365 L900,470 M100,590 L215,690 M0,640 L55,755"/>
<path stroke-width="1.1" stroke-dasharray="3.00 1.80" d="M270,445 L740,525 M310,515 L565,585 M200,560 L385,640"/>
<path stroke-width="1.3" d="M238,524 L270,514 M242,508 L270,500 M238,524 Q228,515 242,508 M270,494 L298,488 L310,500 L305,517 L272,522 Z M285,491 L290,519"/>
<circle cx="180" cy="545" r="20" fill="#000"/>
<path stroke-width="1.4" d="M30,605 L120,565 M20,588 L110,555 M110,555 Q130,560 120,565 M20,588 Q15,600 30,605"/>
<path stroke-width="2.6" d="M200,0 Q260,20 265,60 L275,250 L250,470"/>
<path stroke-width="1.6" d="M240,30 L250,60 L260,250 L230,460 L200,480"/>
<path stroke-width="1.6" d="M0,40 L60,60 Q90,80 95,120 L100,320 L70,510 Q60,530 30,525 L0,520"/>
<path stroke-width="1.2" stroke-dasharray="5.00 2.00" d="M160,120 L160,420 M210,90 L210,430 M40,100 L40,420 M0,380 L40,380"/>
<path stroke-width="1.4" d="M300,0 L300,50 L400,30 M500,0 L500,200 L460,320 L440,375 Q420,395 400,390 L290,355 M430,120 L430,290 Q420,300 400,300 L285,260"/>
<path stroke-width="1.2" stroke-dasharray="4.00 2.00" d="M460,240 L440,360"/>
<g stroke-width="1.2"><circle cx="410" cy="370" r="11"/><circle cx="460" cy="180" r="11"/><circle cx="230" cy="270" r="10" fill="#000"/><circle cx="195" cy="460" r="10"/><circle cx="70" cy="325" r="10" fill="#000"/><circle cx="35" cy="510" r="10"/></g>
<g stroke-width="1.4">
<circle cx="570" cy="140" r="24"/><path d="M558,135 Q570,122 582,140 L562,155"/>
<path d="M620,112 L700,85 M625,132 L710,108 M620,112 Q610,124 625,132"/><ellipse cx="708" cy="95" rx="20" ry="26"/>
<circle cx="525" cy="325" r="24"/><path d="M513,320 Q525,307 537,325 L517,340"/>
<path d="M570,300 L655,270 M575,320 L668,292 M570,300 Q560,312 575,320"/><ellipse cx="660" cy="280" rx="20" ry="26"/>
</g>
<path stroke-width="1.6" d="M0,878 L520,876 M560,865 L800,862 M830,862 L900,862 M950,862 L1180,862 L1180,680"/>
<path stroke-width="1.6" stroke-dasharray="2.00 4.00" d="M1180,0 L1180,680"/>
</g>
<g transform="translate(0 0) scale(1.000000)" fill="none" stroke="#000" stroke-width="1.4" stroke-linecap="round">
<path stroke-width="1.2" stroke-dasharray="4.00 1.80" d="M776,404 L777,443"/>
<path stroke-width="1.1" d="M832,404 L854.5,431"/>
<path stroke-width="1.3" stroke-dasharray="4.00 2.00" d="M262,720 Q265,690 300,686 Q335,688 341,730 Q342,775 310,786 M270,765 Q280,785 300,786"/>
<path stroke-width="1.3" stroke-dasharray="4.00 2.00" d="M321.8,585.7 L398.3,614 L431.1,613 L560,573.7"/>
</g>
<g transform="translate(150 800) scale(0.378215)" fill="none" stroke="#000" stroke-width="1.4" stroke-linecap="round">
<path stroke-width="1.1" stroke-dasharray="3.00 1.60" d="M270,40 L1065,370"/>
<path stroke-width="1.1" d="M1065,370 L940,420"/>
<ellipse cx="172" cy="752" rx="142" ry="152" stroke-width="1.6" stroke-dasharray="6.00 1.50"/>
<ellipse cx="160" cy="760" rx="108" ry="122" stroke-width="1.4" stroke-dasharray="5.00 1.50"/>
<ellipse cx="158" cy="762" rx="98" ry="112" stroke-width="1" stroke-dasharray="3.00 2.00"/>
<path stroke-width="1.3" d="M160,600 L490,468 M300,850 L600,720"/>
<path stroke-width="1.4" d="M490,468 Q560,460 620,520 Q680,600 640,690 L600,720 M520,462 Q600,470 650,540 Q680,600 660,660"/>
<path stroke-width="1.3" d="M260,630 Q320,700 300,850 M290,660 Q315,740 290,830"/>
<ellipse cx="773" cy="493" rx="118" ry="142" transform="rotate(-22 773 493)" stroke-width="2.6"/>
<ellipse cx="843" cy="465" rx="113" ry="138" transform="rotate(-22 843 465)" stroke-width="2.4" stroke-dasharray="60.00 4.00 200.00 4.00"/>
<path stroke-width="1.1" stroke-dasharray="2.50 1.60" d="M380,820 L440,975 M845,645 L915,770"/>
<path stroke-width="1.4" d="M918,655 L918,700"/>
</g>
<g transform="translate(0 0) scale(1.000000)" fill="none" stroke="#000" stroke-width="1.4" stroke-linecap="round">
<g transform="translate(163 713)"><path d="M-14,-4 Q-15,-12 -6,-15 L4,-16 Q12,-14 15,-7 L17,3 Q16,11 8,14 L-2,16 Q-12,15 -14,6 Z" stroke-width="1.4" stroke-dasharray="5.00 1.50"/><path d="M2,-15 L6,-8 L7,6 L4,14 M6,-8 L16,-6 M7,6 L16,4" stroke-width="1.1" stroke-dasharray="3.00 1.50"/><ellipse cx="-4" cy="0" rx="7.5" ry="9" stroke-dasharray="2.00 1.50"/><path d="M-8,-3 Q-9,5 -3,6 Q1,5 1,1" stroke-width="1.5"/></g>
<g transform="translate(174 768)"><path d="M-14,-4 Q-15,-12 -6,-15 L4,-16 Q12,-14 15,-7 L17,3 Q16,11 8,14 L-2,16 Q-12,15 -14,6 Z" stroke-width="1.4" stroke-dasharray="5.00 1.50"/><path d="M2,-15 L6,-8 L7,6 L4,14 M6,-8 L16,-6 M7,6 L16,4" stroke-width="1.1" stroke-dasharray="3.00 1.50"/><ellipse cx="-4" cy="0" rx="7.5" ry="9" stroke-dasharray="2.00 1.50"/><path d="M-8,-3 Q-9,5 -3,6 Q1,5 1,1" stroke-width="1.5"/></g>
<g transform="translate(165 806)"><path d="M-14,-4 Q-15,-12 -6,-15 L4,-16 Q12,-14 15,-7 L17,3 Q16,11 8,14 L-2,16 Q-12,15 -14,6 Z" stroke-width="1.4" stroke-dasharray="5.00 1.50"/><path d="M2,-15 L6,-8 L7,6 L4,14 M6,-8 L16,-6 M7,6 L16,4" stroke-width="1.1" stroke-dasharray="3.00 1.50"/><ellipse cx="-4" cy="0" rx="7.5" ry="9" stroke-dasharray="2.00 1.50"/><path d="M-8,-3 Q-9,5 -3,6 Q1,5 1,1" stroke-width="1.5"/></g>
<g transform="translate(209 849)"><path d="M-14,-4 Q-15,-12 -6,-15 L4,-16 Q12,-14 15,-7 L17,3 Q16,11 8,14 L-2,16 Q-12,15 -14,6 Z" stroke-width="1.4" stroke-dasharray="5.00 1.50"/><path d="M2,-15 L6,-8 L7,6 L4,14 M6,-8 L16,-6 M7,6 L16,4" stroke-width="1.1" stroke-dasharray="3.00 1.50"/><ellipse cx="-4" cy="0" rx="7.5" ry="9" stroke-dasharray="2.00 1.50"/><path d="M-8,-3 Q-9,5 -3,6 Q1,5 1,1" stroke-width="1.5"/></g>
<g transform="translate(197 700)"><ellipse cx="0" cy="0" rx="12.5" ry="14.5" stroke-width="1.5" stroke-dasharray="5.00 1.50"/><ellipse cx="0" cy="0" rx="9.5" ry="11.5" stroke-dasharray="2.50 2.00"/><path d="M-5,-4 Q-6,6 0,8 Q4,8 5,2" stroke-width="1.6"/></g>
<g transform="translate(214.5 754)"><ellipse cx="0" cy="0" rx="12.5" ry="14.5" stroke-width="1.5" stroke-dasharray="5.00 1.50"/><ellipse cx="0" cy="0" rx="9.5" ry="11.5" stroke-dasharray="2.50 2.00"/><path d="M-5,-4 Q-6,6 0,8 Q4,8 5,2" stroke-width="1.6"/></g>
<g transform="translate(208 789.5)"><ellipse cx="0" cy="0" rx="12.5" ry="14.5" stroke-width="1.5" stroke-dasharray="5.00 1.50"/><ellipse cx="0" cy="0" rx="9.5" ry="11.5" stroke-dasharray="2.50 2.00"/><path d="M-5,-4 Q-6,6 0,8 Q4,8 5,2" stroke-width="1.6"/></g>
<g transform="translate(244 834.5)"><ellipse cx="0" cy="0" rx="12.5" ry="14.5" stroke-width="1.5" stroke-dasharray="5.00 1.50"/><ellipse cx="0" cy="0" rx="9.5" ry="11.5" stroke-dasharray="2.50 2.00"/><path d="M-5,-4 Q-6,6 0,8 Q4,8 5,2" stroke-width="1.6"/></g>
</g>
<g transform="translate(830 400) scale(0.109242)" fill="none" stroke="#000" stroke-width="1.4" stroke-linecap="round">
<path stroke-width="1.3" d="M355,262 Q380,220 520,205 L840,290"/>
<path stroke-width="2.6" d="M840,290 L1060,462"/>
<path stroke-width="2.4" d="M120,322 Q200,290 340,285 L600,345 L870,540 L880,1080"/>
<path stroke-width="1.4" d="M880,1080 L510,1000"/>
<path stroke-width="1.4" d="M380,430 L690,520 Q715,540 715,580 L720,870 Q700,900 680,900"/>
<path stroke-width="2.4" d="M680,900 L520,860"/>
<path stroke-width="1.6" d="M515,520 Q530,600 690,740"/>
<path d="M360,430 L360,555 M120,322 L120,380"/>
<g stroke-width="1.2"><circle cx="480" cy="380" r="20"/><circle cx="660" cy="310" r="20"/><circle cx="280" cy="720" r="25"/><circle cx="990" cy="925" r="22"/><circle cx="780" cy="990" r="22"/><circle cx="965" cy="210" r="22"/></g>
<path stroke-width="2" d="M860,100 L1128,162 L1140,455 L1065,468 M860,100 L858,240"/>
<path stroke-width="1.2" d="M1128,162 L1180,170"/>
<path stroke-width="2.6" d="M1065,468 L1075,1022"/>
<path stroke-width="1.3" d="M1075,1022 L910,990 M1035,1030 L1035,1190"/>
<path stroke-width="1.3" d="M1140,480 L1160,560 L1160,860 L1190,870"/>
<path stroke-width="2.2" d="M80,512 L400,600 Q480,640 490,690 L505,1190"/>
<path stroke-width="2.2" d="M80,560 L390,640 Q455,668 460,700 L468,1190"/>
<path d="M70,560 L70,750 L0,750 M0,330 L120,330"/>
<path stroke-width="2.4" d="M0,580 L20,572 L30,420 Q50,390 90,392 L120,385 M140,395 L150,480"/>
<path stroke-dasharray="5.00 1.80" d="M10,810 Q130,850 160,960 L150,1020 M80,730 Q280,780 320,900 L310,1000 L220,1080 M0,1100 L100,1050 M0,1190 L150,1120"/>
<path stroke-dasharray="5.00 1.80" d="M200,470 L380,420 M240,420 Q255,400 300,405"/>
</g>
<g transform="translate(760 290) scale(0.168067)" fill="none" stroke="#000" stroke-width="1.4" stroke-linecap="round">
<path stroke-width="1.5" d="M250,440 L520,365 M290,545 L570,435 M250,440 Q220,470 235,515 Q250,545 290,545"/>
<ellipse cx="540" cy="395" rx="32" ry="40" transform="rotate(-20 540 395)" stroke-width="1.5"/>
<path stroke-dasharray="3.00 1.50" d="M300,500 L470,450 M465,395 L470,425 M490,390 L495,420"/>
<path d="M275,450 Q260,480 290,520"/>
<path stroke-width="1.1" stroke-dasharray="3.00 1.60" d="M235,200 L360,395 M580,380 L995,240"/>
<path stroke-width="1.3" stroke-dasharray="6.00 1.60" d="M1000,285 L1005,660 L1060,650"/>
<path stroke-width="1.1" d="M720,570 L920,710"/>
</g>
<g transform="translate(760 560) scale(0.201694)" fill="none" stroke="#000" stroke-width="1.4" stroke-linecap="round">
<path stroke-width="1.1" stroke-dasharray="3.00 1.60" d="M610,230 L945,430 M450,440 L720,515 M310,710 L530,835 M15,1160 L240,1310 M100,575 L255,510"/>
<path stroke-width="1.1" d="M320,510 L480,600 M210,810 L300,920"/>
<path stroke-width="1.4" d="M910,30 L910,130 M1140,10 L1140,50"/>
<circle cx="290" cy="490" r="33" fill="#000"/><circle cx="292" cy="490" r="10" stroke="#fff"/>
<path stroke-width="1.4" d="M340,460 L400,430 M345,480 L410,455 M340,460 Q330,472 345,480"/>
<ellipse cx="420" cy="442" rx="30" ry="25" stroke-width="1.4"/>
<path stroke-width="1.5" d="M50,585 Q40,600 60,610 L290,700 Q315,690 300,665 L70,580 Z"/>
<path d="M180,640 L270,670"/>
<ellipse cx="170" cy="775" rx="48" ry="24" transform="rotate(20 170 775)" stroke-width="1.4"/>
<path stroke-width="2" d="M80,170 L90,580 M100,640 L105,900 L0,1040"/>
<g stroke-width="1.3"><circle cx="35" cy="180" r="14"/><circle cx="65" cy="900" r="14"/><circle cx="65" cy="735" r="12"/></g>
<path stroke-dasharray="3.00 1.60" d="M40,230 L40,560 M0,640 L40,660 M0,780 L30,800 M20,820 L30,870"/>
</g>
<g transform="translate(0 0) scale(1.000000)" fill="none" stroke="#000" stroke-width="1.4" stroke-linecap="round">
<g stroke-width="1.3">
<path d="M1100,387.1 L1117.1,381.4 M1101.4,395.4 L1117.1,391.4 M1100,387.1 Q1097.1,391.4 1101.4,395.4 M1116.4,378.6 Q1118,376 1120,375.7 L1125.7,375 M1117.1,390.7 L1125.7,389.3 M1116.4,378.6 L1117.1,391.4"/>
<path stroke-dasharray="1.50 1.00" d="M1106,392 L1116,389.5"/>
<ellipse cx="1088.6" cy="397.1" rx="6" ry="7" stroke-dasharray="4.00 1.20"/><path d="M1085,395 Q1088,392 1091,396 L1087,400"/>
<path d="M1108.6,461.4 L1125.7,454.3 M1110,468.6 L1125.7,464.3 M1108.6,461.4 Q1107.1,465.7 1110,468.6 M1124,452 L1125.7,451"/>
<path stroke-dasharray="1.50 1.00" d="M1114,466 L1124,463"/>
<ellipse cx="1090" cy="473.6" rx="6.5" ry="7.5" stroke-dasharray="4.00 1.20"/><ellipse cx="1089.5" cy="474" rx="3" ry="3.5"/>
<path d="M1092.9,525 L1108.6,520.7 M1094.3,531.4 L1111.4,527.1 M1092.9,525 Q1091,528.5 1094.3,531.4 M1107.1,518.6 Q1110,515.5 1114.3,515 Q1119,515 1121.4,517.1 L1123.6,522.9 L1121.4,528.6 L1112.9,530 M1110,519 L1111.4,527.1"/>
<path stroke-dasharray="1.50 1.00" d="M1098,529 L1108,526.5"/>
<ellipse cx="1080" cy="535.7" rx="6" ry="7" stroke-dasharray="4.00 1.20"/><path d="M1077,534 Q1080,531 1083,535 L1079,539"/>
</g>
</g>
<g transform="translate(135 560) scale(0.134454)" fill="none" stroke="#000" stroke-width="1.4" stroke-linecap="round">
<path stroke-width="1.5" d="M195,450 L195,550 M183,710 L183,965 M488,330 L488,460 M475,660 L475,920 M1080,110 L1080,250 M1090,410 L1090,500"/>
<path stroke-width="1.3" stroke-dasharray="4.00 2.50" d="M775,200 L695,850"/>
<path stroke-width="1.6" d="M640,1030 Q590,1010 595,940 Q600,915 640,905 L890,820 Q940,830 945,880 L940,930 L660,1030"/>
<path stroke-width="1.2" d="M690,900 L690,1010 M720,890 L720,1000 M750,880 L750,990 M780,870 L780,980 M805,860 L805,970 M825,855 L825,965 M845,850 L845,960"/>
<path stroke-width="1.5" d="M720,830 Q800,730 940,640 L1040,630 L1190,680"/>
<path d="M960,760 Q1000,740 1060,745 Q1120,760 1120,820 Q1100,860 1010,860 Q960,850 950,820 Z"/>
<path d="M900,1150 Q950,1000 1060,945 L1190,950"/>
<path d="M780,1050 Q800,1080 850,1080 L855,990"/>
<path stroke-width="2" d="M735,1040 L735,1190"/>
</g>
<g transform="translate(135 700) scale(0.134454)" fill="none" stroke="#000" stroke-width="1.4" stroke-linecap="round">
<path stroke-width="1.4" d="M730,0 L740,250 Q750,400 800,480"/>
<path stroke-dasharray="4.00 2.00" d="M920,0 Q890,200 950,350 L1000,420 L1100,530 L1190,600"/>
<ellipse cx="840" cy="320" rx="45" ry="75" stroke-width="1.5"/>
<path stroke-width="1.5" d="M1000,800 Q960,760 965,660 Q990,620 1050,620 Q1110,640 1110,700 L1110,800 Z"/>
<path d="M830,450 L1190,320 M1090,520 L1190,480"/>
<path stroke-dasharray="4.00 2.00" d="M860,620 L860,800"/>
<path d="M880,650 Q950,800 1050,850 L1190,900"/>
<path stroke-width="1.5" d="M700,650 Q650,620 660,560 L700,530 L830,490 L850,580 L740,650"/>
<path stroke-width="1.2" d="M770,600 L770,640 M790,590 L790,630 M810,585 L810,620 M830,580 L830,615"/>
<path d="M840,450 L840,600 M870,470 Q960,450 975,520 L970,560 L880,590"/>
</g>
<!--DRAW-->
<rect x="71" y="1350" width="2" height="2" fill="#000"/><rect x="565" y="1454.5" width="2" height="1.5" fill="#000"/>
<rect x="1075.5" y="1215" width="1.6" height="1.6" fill="#000"/><rect x="1098" y="1211" width="1.6" height="1.6" fill="#000"/><rect x="1067.5" y="1259" width="1.6" height="1.6" fill="#000"/>
</svg>
</body></html>
